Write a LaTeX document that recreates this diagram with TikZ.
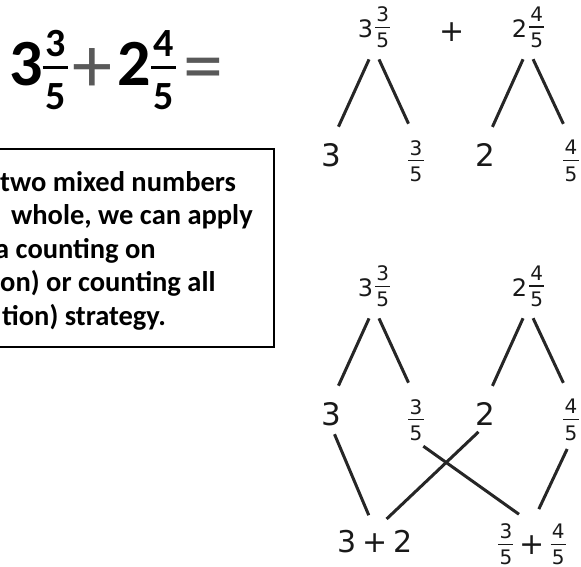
\documentclass[tikz,border=0pt]{standalone}
\usepackage{fontspec}
\usepackage{graphicx}
\setmainfont{DejaVu Sans}
\newfontfamily\calib{Carlito}
% stacked fraction, #1 = raise
\newcommand{\fr}[3][0pt]{\raisebox{#1}{\renewcommand{\arraystretch}{0}\setlength{\arrayrulewidth}{0.07em}\begin{tabular}[b]{@{\hspace{0.06em}}c@{\hspace{0.06em}}}\rule[-0.25em]{0pt}{0.5em}#2\\\hline\rule{0pt}{1em}#3\end{tabular}}}
\newcommand{\mixnum}[3]{#1\hspace{2pt}{\fontsize{20}{24}\selectfont\fr[-10pt]{#2}{#3}}}
\newcommand{\smallfr}[2]{{\fontsize{20}{24}\selectfont\fr[-10pt]{#1}{#2}}}
\newcommand{\bigfr}[2]{{\fontsize{40}{44}\selectfont\fr[-24pt]{#1}{#2}}}
\newcommand{\opsign}[1]{{\color{black!65}\mdseries\fontsize{80}{80}\selectfont\raisebox{-7pt}{#1}}}
\begin{document}
\begin{tikzpicture}[x=1pt, y=-1pt,
    lbl/.style={inner sep=0pt, text=black!90},
    whole/.style={lbl, font=\fontsize{31}{36}\selectfont},
    part/.style={lbl, font=\fontsize{20}{24}\selectfont},
    mixed/.style={lbl, font=\fontsize{24}{28}\selectfont},
    branch/.style={draw=black!85, line width=3pt, shorten <=12pt, shorten >=18pt},
    link/.style={draw=black!85, line width=3pt, shorten <=9pt, shorten >=16pt},
    txt/.style={anchor=base west, inner sep=0pt, font=\calib\bfseries\fontsize{28.5}{34}\selectfont}]
  \useasboundingbox (0,0) rectangle (581,566);
  \clip (0,0) rectangle (581,566);

  % the sum
  \node[anchor=base west, inner sep=0pt, font=\calib\bfseries\fontsize{66}{70}\selectfont] (eq) at (9,85)
    {3\bigfr{3}{5}\hspace{5pt}\opsign{+}\hspace{5pt}2\bigfr{4}{5}\hspace{7pt}\opsign{=}};

  % box, its left side runs off the page
  \draw[line width=1.5pt] (-20,149) rectangle (274,347);
  \node[txt] (l1) at (0,191) {two mixed numbers};
  \node[txt] (l2) at (11,224.5) {whole, we can apply};
  \node[txt] (l3) at (-5,258) {a counting on};
  \node[txt] (l4) at (0,291.5) {on) or counting all};
  \node[txt] (l5) at (2,325) {tion) strategy.};

  % first split
  \node[mixed] (m1) at (374,27.5) {\mixnum{3}{3}{5}};
  \node[lbl, font=\fontsize{30}{36}\selectfont] (plus) at (452,32) {+};
  \node[mixed] (m2) at (528,27.5) {\mixnum{2}{4}{5}};
  \node[whole] (w1) at (331,155) {3};
  \node[part] (f1) at (416,161) {\fr{3}{5}};
  \node[whole] (w2) at (485,155) {2};
  \node[part] (f2) at (571,161) {\fr{4}{5}};
  \draw[branch] (m1.south) -- (w1.north);
  \draw[branch] (m1.south) -- (f1.north);
  \draw[branch] (m2.south) -- (w2.north);
  \draw[branch] (m2.south) -- (f2.north);

  % split and regroup
  \node[mixed] (m3) at (374,286.5) {\mixnum{3}{3}{5}};
  \node[mixed] (m4) at (528,286.5) {\mixnum{2}{4}{5}};
  \node[whole] (w3) at (331,414) {3};
  \node[part] (f3) at (416,420) {\fr{3}{5}};
  \node[whole] (w4) at (485,414) {2};
  \node[part] (f4) at (571,420) {\fr{4}{5}};
  \node[lbl, font=\fontsize{30}{36}\selectfont] (s1) at (375,541.5) {3\hspace{6pt}+\hspace{6pt}2};
  \node[lbl, font=\fontsize{30}{36}\selectfont] (s2) at (532,544.5) {\smallfr{3}{5}\hspace{6pt}+\hspace{6pt}\smallfr{4}{5}};
  \draw[branch] (m3.south) -- (w3.north);
  \draw[branch] (m3.south) -- (f3.north);
  \draw[branch] (m4.south) -- (w4.north);
  \draw[branch] (m4.south) -- (f4.north);
  \draw[link] (w3.south) -- (s1.north);
  \draw[link] (w4.south) -- (s1.north);
  \draw[link] (f3.south) -- (s2.north);
  \draw[link] (f4.south) -- (s2.north);
\end{tikzpicture}
\end{document}
